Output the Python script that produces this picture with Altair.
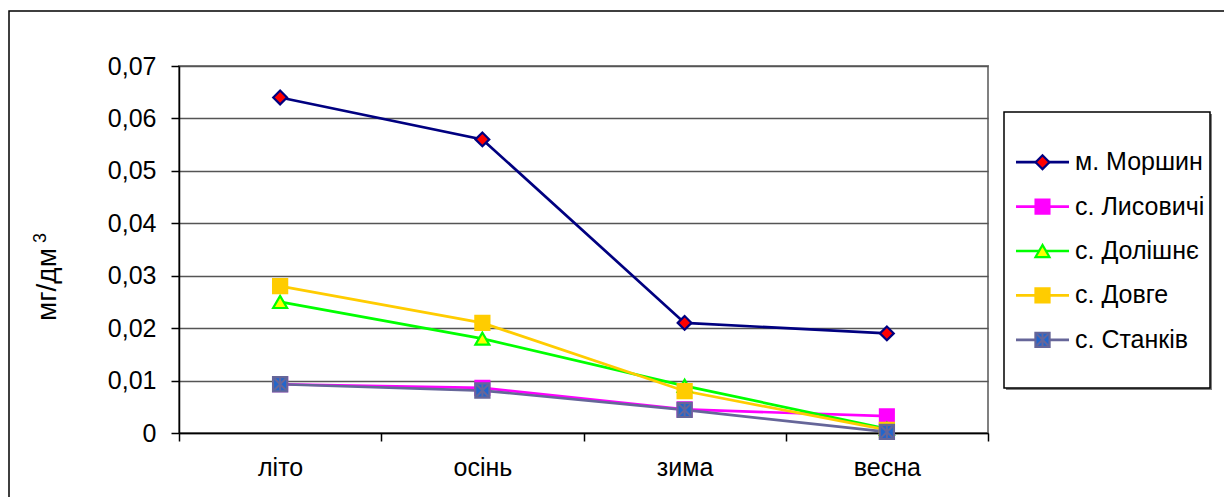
import altair as alt
import pandas as pd

seasons = ["літо", "осінь", "зима", "весна"]
series = ["м. Моршин", "с. Лисовичі", "с. Долішнє", "с. Довге", "с. Станків"]
morshyn = [0.064, 0.056, 0.021, 0.019]
lysovychi = [0.0093, 0.0086, 0.0045, 0.0032]
dolishne = [0.025, 0.018, 0.009, 0.0008]
dovhe = [0.028, 0.021, 0.008, 0.0006]
stankiv = [0.0093, 0.0081, 0.0044, 0.0002]
y_ticks = [0, 0.01, 0.02, 0.03, 0.04, 0.05, 0.06, 0.07]
y_title = "мг/дм"
y_title_sup = "3"

line_colors = ["#000080", "#FF00FF", "#00FF00", "#FFCC00", "#666699"]
marker_fills = ["#FF0000", "#FF00FF", "#FFFF00", "#FFCC00", "#2266CC"]
marker_strokes = ["#000080", "#FF00FF", "#00FF00", "#FFCC00", "#3366CC"]
shapes = ["diamond", "square", "triangle-up", "square", "square"]
sizes = [190, 200, 130, 200, 200]
STAR = "M-1,-1L1,1M-1,1L1,-1M0,-1.1L0,1.1"

values = [morshyn, lysovychi, dolishne, dovhe, stankiv]
rows = []
for s, vals in zip(series, values):
    for season, v in zip(seasons, vals):
        rows.append({"series": s, "season": season, "value": v})
df = pd.DataFrame(rows)
legend_df = pd.DataFrame({"series": series})
one = pd.DataFrame({"k": [1]})

FONT = "Liberation Sans"
W, H = 809, 367

stroke_scale = alt.Scale(domain=series, range=line_colors)
mstroke_scale = alt.Scale(domain=series, range=marker_strokes)
fill_scale = alt.Scale(domain=series, range=marker_fills)
shape_scale = alt.Scale(domain=series, range=shapes)
size_scale = alt.Scale(domain=series, range=sizes)

x_axis = alt.Axis(title=None, tickBand="extent", labelAngle=0, tickSize=8,
                  tickColor="black", tickWidth=1.5, domainColor="black",
                  domainWidth=1.5, labelPadding=14, labelFontSize=25,
                  labelColor="black", labelFont=FONT, grid=False)
x_scale = alt.Scale(type="band", domain=seasons, paddingInner=0, paddingOuter=0)
x_enc = alt.X("season:N", sort=seasons, scale=x_scale, bandPosition=0.5, axis=x_axis)

y_axis = alt.Axis(values=y_ticks, title=y_title,
                  labelExpr="datum.value == 0 ? '0' : replace(format(datum.value, '.2f'), '.', ',')",
                  tickSize=8, tickColor="black", tickWidth=1.5,
                  domainColor="black", domainWidth=1.5, labelPadding=15,
                  labelFontSize=25, labelColor="black", labelFont=FONT,
                  grid=True, gridColor="#555555", gridWidth=1.5,
                  titleFontSize=28, titleFontWeight="normal", titleColor="black",
                  titleFont=FONT, titleX=-118, titleY=218)
y_scale = alt.Scale(domain=[0, 0.07], nice=False, zero=True)
y_enc = alt.Y("value:Q", scale=y_scale, axis=y_axis)

lines = alt.Chart(df).mark_line(strokeWidth=2.7).encode(
    x=x_enc, y=y_enc,
    stroke=alt.Stroke("series:N", scale=stroke_scale, legend=None),
    detail="series:N",
)
points = alt.Chart(df).mark_point(filled=False, opacity=1, strokeWidth=2.2).encode(
    x=x_enc, y=y_enc,
    shape=alt.Shape("series:N", scale=shape_scale, legend=None),
    fill=alt.Fill("series:N", scale=fill_scale, legend=None),
    stroke=alt.Stroke("series:N", scale=mstroke_scale, legend=None),
    size=alt.Size("series:N", scale=size_scale, legend=None),
)
stars = alt.Chart(df).transform_filter(
    alt.datum.series == series[-1]
).mark_point(shape=STAR, size=130, strokeWidth=2, stroke="#666699", filled=False, opacity=1).encode(
    x=x_enc, y=y_enc,
)
main = alt.layer(lines, points, stars)

# legend
ly = alt.Y("series:N", scale=alt.Scale(domain=series, range=[74, 296], padding=0), axis=None)
legend_frame_shadow = alt.Chart(one).mark_rect(fill="#808080").encode(
    x=alt.value(827), x2=alt.value(1033), y=alt.value(48), y2=alt.value(324))
legend_frame = alt.Chart(one).mark_rect(fill="white", stroke="black", strokeWidth=1.5).encode(
    x=alt.value(825), x2=alt.value(1031), y=alt.value(46), y2=alt.value(322))
leg_rules = alt.Chart(legend_df).mark_rule(strokeWidth=2.7).encode(
    x=alt.value(837), x2=alt.value(890), y=ly,
    stroke=alt.Stroke("series:N", scale=stroke_scale, legend=None))
leg_points = alt.Chart(legend_df).mark_point(filled=False, opacity=1, strokeWidth=2.2).encode(
    x=alt.value(863.5), y=ly,
    shape=alt.Shape("series:N", scale=shape_scale, legend=None),
    fill=alt.Fill("series:N", scale=fill_scale, legend=None),
    stroke=alt.Stroke("series:N", scale=mstroke_scale, legend=None),
    size=alt.Size("series:N", scale=size_scale, legend=None))
leg_star = alt.Chart(legend_df).transform_filter(
    alt.datum.series == series[-1]
).mark_point(shape=STAR, size=130, strokeWidth=2, stroke="#666699", filled=False, opacity=1).encode(
    x=alt.value(863.5), y=ly)
leg_text = alt.Chart(legend_df).mark_text(align="left", baseline="middle", font=FONT,
                                          fontSize=25, color="black").encode(
    x=alt.value(896), y=ly, text="series:N")
legend = alt.layer(legend_frame_shadow, legend_frame, leg_rules, leg_points, leg_star, leg_text)

outer = alt.Chart(one).mark_rect(fill="transparent", stroke="black", strokeWidth=1.5).encode(
    x=alt.value(-170), x2=alt.value(1200), y=alt.value(-55), y2=alt.value(600))
sup = alt.Chart(one).mark_text(text=y_title_sup, angle=270, font=FONT, fontSize=18,
                               color="black", align="center", baseline="middle").encode(
    x=alt.value(-138), y=alt.value(172))

chart = alt.layer(outer, sup, main, legend).resolve_scale(y="independent").properties(
    width=W, height=H,
    padding={"left": 179, "top": 66, "right": 236, "bottom": 64},
    autosize=alt.AutoSizeParams(type="none"),
    background="white",
).configure_view(stroke="#808080", strokeWidth=2)

chart.save("out.html", embed_options={"renderer": "svg", "actions": False})
